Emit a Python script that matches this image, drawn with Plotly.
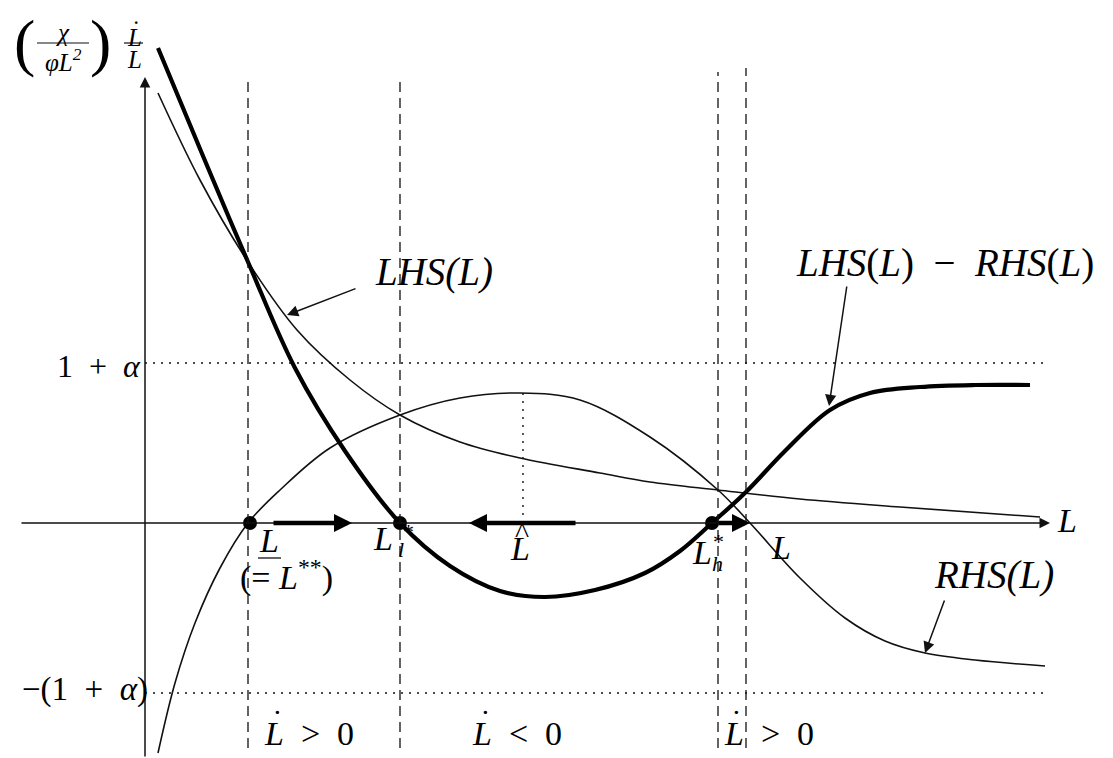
import plotly.graph_objects as go

# Schematic curves (horizontal: L, vertical: (chi / (phi L^2)) * Ldot / L)
lhs_x = [13, 55, 103, 152, 205, 255, 315, 375, 455, 505, 573, 655, 755, 895]
lhs_y = [430, 343, 261, 193, 143, 108, 81, 65, 50, 41, 33, 24, 16, 6]

rhs_x = [13, 30, 50, 75, 103, 135, 185, 255, 315, 375, 435, 505, 573, 605, 655, 700, 740, 780, 830, 900]
rhs_y = [-230, -160, -100, -45, 0, 33, 75, 108, 125, 130, 123, 86, 33, 0, -55, -95, -118, -130, -137, -143]

diff_x = [13, 58, 103, 150, 200, 255, 305, 355, 400, 450, 500, 535, 567, 601, 640, 685, 725, 775, 830, 885]
diff_y = [475, 367, 261, 155, 72, 0, -43, -68, -74, -67, -50, -28, 0, 31, 72, 113, 130, 136, 138, 138]

# Reference levels and marked points
alpha_level = 160          # 1 + alpha
neg_alpha_level = -170     # -(1 + alpha)
equilibria_x = [105, 255, 567]
regime_x = [103, 255, 573, 601]
regime_top = [446, 446, 451, 455]
l_hat_x, l_hat_peak = 378, 130

X_MIN, X_MAX = -145, 968
Y_MIN, Y_MAX = -235, 523

INK = "#111111"
SERIF = "Liberation Serif"
EN = "\u2002"   # en space

fig = go.Figure()

fig.add_trace(go.Scatter(x=lhs_x, y=lhs_y, mode="lines",
                         line=dict(color=INK, width=1.6, shape="spline", smoothing=1.0)))
fig.add_trace(go.Scatter(x=rhs_x, y=rhs_y, mode="lines",
                         line=dict(color=INK, width=1.6, shape="spline", smoothing=1.0)))
fig.add_trace(go.Scatter(x=diff_x, y=diff_y, mode="lines",
                         line=dict(color="black", width=4.2, shape="spline", smoothing=1.0)))
fig.add_trace(go.Scatter(x=equilibria_x, y=[0] * len(equilibria_x), mode="markers",
                         marker=dict(color="black", size=14)))

shapes = []
# dotted levels
for lvl in (alpha_level, neg_alpha_level):
    shapes.append(dict(type="line", x0=0, x1=900, y0=lvl, y1=lvl,
                       line=dict(color=INK, width=1.4, dash="2px,6px")))
shapes.append(dict(type="line", x0=l_hat_x, x1=l_hat_x, y0=0, y1=l_hat_peak,
                   line=dict(color=INK, width=1.4, dash="2px,6px")))
# dashed regime boundaries
for xv, top in zip(regime_x, regime_top):
    shapes.append(dict(type="line", x0=xv, x1=xv, y0=-225, y1=top,
                       line=dict(color=INK, width=1.3, dash="10px,6px")))
# fraction bars of the vertical-axis label
shapes.append(dict(type="line", x0=-108, x1=-56, y0=480, y1=480, line=dict(color=INK, width=1.2)))
shapes.append(dict(type="line", x0=-21, x1=-2, y0=480, y1=480, line=dict(color=INK, width=1.2)))
# bar under the lower steady state L
shapes.append(dict(type="line", x0=113, x1=136, y0=-35, y1=-35, line=dict(color=INK, width=1.3)))

annotations = []


def arrow(tip, tail, width=1.5, head=2, size=1.5, color=INK):
    annotations.append(dict(x=tip[0], y=tip[1], ax=tail[0], ay=tail[1],
                            xref="x", yref="y", axref="x", ayref="y",
                            text="", showarrow=True, arrowhead=head,
                            arrowsize=size, arrowwidth=width, arrowcolor=color))


def txt(x, y, s, size=30, anchor="center", italic=False):
    if italic:
        s = "<i>" + s + "</i>"
    annotations.append(dict(x=x, y=y, xref="x", yref="y", text=s, showarrow=False,
                            xanchor=anchor, yanchor="middle",
                            font=dict(family=SERIF, size=size, color="black")))


# coordinate axes
arrow((0, 446), (0, -235), width=1.5, size=1.4)
arrow((905, 0), (-125, 0), width=1.5, size=1.4)

# direction of motion along the L axis
arrow((207, 0), (127, 0), width=4.5, head=2, size=0.8, color="black")
arrow((324, 0), (432, 0), width=4.5, head=2, size=0.8, color="black")
arrow((605, 0), (572, 0), width=4.5, head=2, size=0.8, color="black")

# pointers to the curves
arrow((142, 208), (212, 235))
arrow((684, 117), (702, 238))
arrow((780, -130), (800, -76))

# vertical-axis label
txt(-121, 481, "(", size=64)
txt(-45, 481, ")", size=64)
txt(-82, 491, "χ", size=25, italic=True)
txt(-82, 463, "φL<sup>2</sup>", size=25, italic=True)
txt(-11, 486, "L", size=25, italic=True)
txt(-9, 494, "˙", size=25)
txt(-11, 464, "L", size=25, italic=True)

# level labels
txt(-2, 157, "1" + EN + "+" + EN + "<i>α</i>", size=32, anchor="right")
txt(5, -166, "−(1" + EN + "+" + EN + "<i>α</i>)", size=33, anchor="right")

# curve labels
txt(289, 251, "LHS(L)", size=39, italic=True)
txt(800, 260, "<i>LHS</i>(<i>L</i>)" + EN + "−" + EN + "<i>RHS</i>(<i>L</i>)", size=39)
txt(849, -52, "RHS(L)", size=39, italic=True)
txt(922, 3, "L", size=34, italic=True)

# steady states on the axis
txt(124, -17, "L", size=34, italic=True)
txt(141, -52, "(= <i>L</i><sup>**</sup>)", size=34)
txt(238, -15, "L", size=34, italic=True)
txt(263, -8, "*", size=22)
txt(256, -26, "l", size=22, italic=True)
txt(375, -25, "L", size=34, italic=True)
txt(377, -9, "^", size=30)
txt(557, -29, "L", size=34, italic=True)
txt(573, -18, "*", size=22)
txt(572, -40, "h", size=22, italic=True)
txt(636, -24, "L", size=34, italic=True)

# regimes of Ldot
for x_left, dot_x, cmp in ((117, 132, ">"), (325, 340, "<"), (577, 591, ">")):
    txt(x_left, -210, "<i>L</i>" + EN + cmp + EN + "0", size=34, anchor="left")
    txt(dot_x, -198, "˙", size=32)

fig.update_layout(
    width=1113, height=758,
    margin=dict(l=0, r=0, t=0, b=0),
    paper_bgcolor="white", plot_bgcolor="white",
    showlegend=False,
    xaxis=dict(range=[X_MIN, X_MAX], visible=False, fixedrange=True),
    yaxis=dict(range=[Y_MIN, Y_MAX], visible=False, fixedrange=True),
    shapes=shapes, annotations=annotations,
)

fig.write_html("out.html")
